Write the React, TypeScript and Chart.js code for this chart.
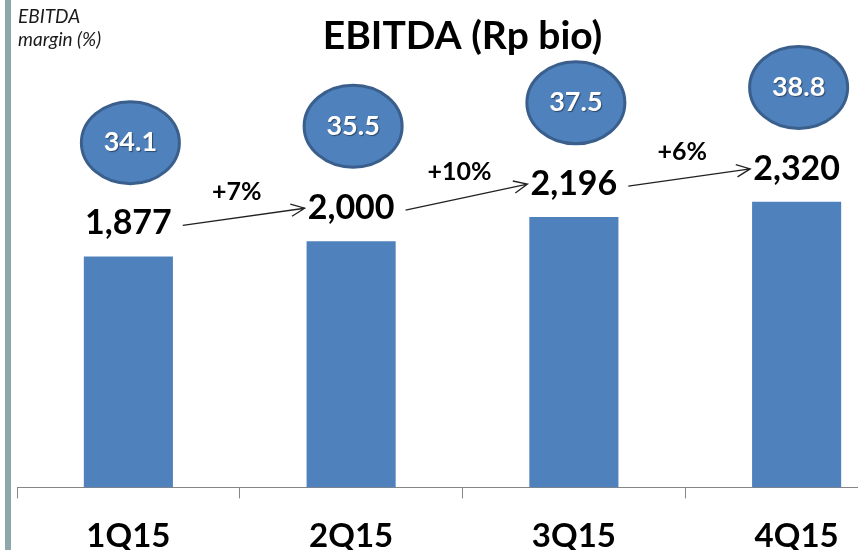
import React, { useEffect, useRef } from "react";
import { Chart, registerables } from "chart.js";

Chart.register(...registerables);

// ---- data ----
const categories = ["1Q15", "2Q15", "3Q15", "4Q15"];
const ebitda = [1877, 2000, 2196, 2320];
const marginPct = [34.1, 35.5, 37.5, 38.8];
const growthLabels = ["+7%", "+10%", "+6%"];
const chartTitle = "EBITDA (Rp bio)";
const marginTitle = ["EBITDA", "margin (%)"];

const FONT = "Lato, 'Open Sans', sans-serif";
const BAR_COLOR = "#4F81BD";
const ELLIPSE_BORDER = "#3A5F8C";
const AXIS_COLOR = "#868686";

const fmt = (v: number) => v.toLocaleString("en-US");

const overlayPlugin = {
  id: "overlay",
  afterDatasetsDraw(chart: any) {
    const ctx: CanvasRenderingContext2D = chart.ctx;
    const area = chart.chartArea;
    const bars = chart.getDatasetMeta(0).data;
    const pts = chart.getDatasetMeta(1).data;
    ctx.save();

    // left frame stripe
    ctx.fillStyle = "#8EA7AA";
    ctx.fillRect(5, 0, 6, chart.height);

    // margin caption
    ctx.fillStyle = "#1a1a1a";
    ctx.font = `italic 19px ${FONT}`;
    ctx.textAlign = "left";
    ctx.textBaseline = "alphabetic";
    ctx.fillText(marginTitle[0], 18, 23);
    ctx.fillText(marginTitle[1], 18, 46);

    // title
    ctx.fillStyle = "#000";
    ctx.font = `bold 39px ${FONT}`;
    ctx.textAlign = "center";
    ctx.fillText(chartTitle, (area.left + area.right) / 2, 49);

    // value labels
    ctx.font = `bold 34px ${FONT}`;
    const centers: { x: number; y: number; w: number }[] = [];
    bars.forEach((el: any, i: number) => {
      const txt = fmt(ebitda[i]);
      const base = el.y - 22;
      ctx.fillText(txt, el.x, base);
      centers.push({ x: el.x, y: base - 12, w: ctx.measureText(txt).width });
    });

    // arrows + growth labels
    ctx.strokeStyle = "#222";
    ctx.lineWidth = 1.3;
    for (let i = 0; i < centers.length - 1; i++) {
      const a = centers[i];
      const b = centers[i + 1];
      const x1 = a.x + a.w / 2 + 11;
      const y1 = a.y + 3;
      const x2 = b.x - b.w / 2 - 3;
      const y2 = b.y + 1;
      ctx.beginPath();
      ctx.moveTo(x1, y1);
      ctx.lineTo(x2, y2);
      const ang = Math.atan2(y2 - y1, x2 - x1);
      const len = 15;
      const spread = 0.42;
      ctx.moveTo(x2 - len * Math.cos(ang - spread), y2 - len * Math.sin(ang - spread));
      ctx.lineTo(x2, y2);
      ctx.lineTo(x2 - len * Math.cos(ang + spread), y2 - len * Math.sin(ang + spread));
      ctx.stroke();
      ctx.fillStyle = "#000";
      ctx.font = `bold 25px ${FONT}`;
      ctx.textAlign = "center";
      ctx.textBaseline = "alphabetic";
      ctx.fillText(growthLabels[i], (x1 + x2) / 2 - 7, (y1 + y2) / 2 - 17);
    }

    // margin ellipses
    pts.forEach((p: any, i: number) => {
      ctx.beginPath();
      ctx.ellipse(p.x + 2, p.y, 49, 41, 0, 0, Math.PI * 2);
      ctx.fillStyle = BAR_COLOR;
      ctx.fill();
      ctx.lineWidth = 3;
      ctx.strokeStyle = ELLIPSE_BORDER;
      ctx.stroke();
      ctx.save();
      ctx.shadowColor = "rgba(0,0,0,0.45)";
      ctx.shadowOffsetX = 1;
      ctx.shadowOffsetY = 1;
      ctx.shadowBlur = 1;
      ctx.fillStyle = "#fff";
      ctx.font = `bold 27px ${FONT}`;
      ctx.textAlign = "center";
      ctx.textBaseline = "middle";
      ctx.fillText(marginPct[i].toFixed(1), p.x + 2, p.y);
      ctx.restore();
    });

    ctx.restore();
  },
};

export default function App() {
  const ref = useRef<HTMLCanvasElement | null>(null);
  useEffect(() => {
    if (!ref.current) return;
    const chart = new Chart(ref.current, {
      type: "bar",
      data: {
        labels: categories,
        datasets: [
          {
            type: "bar",
            data: ebitda,
            backgroundColor: BAR_COLOR,
            categoryPercentage: 1,
            barPercentage: 0.4,
            yAxisID: "y",
          },
          {
            type: "line",
            data: marginPct,
            showLine: false,
            pointRadius: 0,
            yAxisID: "y1",
          } as any,
        ],
      },
      options: {
        animation: false,
        responsive: false,
        devicePixelRatio: 1,
        layout: { padding: { left: 17, right: 2, top: 0, bottom: 0 } },
        plugins: { legend: { display: false }, tooltip: { enabled: false } },
        scales: {
          x: {
            type: "category",
            offset: true,
            grid: {
              display: true,
              offset: true,
              drawOnChartArea: false,
              drawTicks: true,
              tickLength: 11,
              color: AXIS_COLOR,
              lineWidth: 1,
            },
            border: { display: true, color: AXIS_COLOR, width: 1 },
            ticks: {
              color: "#000",
              padding: 18,
              font: { family: FONT, size: 33, weight: "bold" },
            },
          },
          y: { display: false, min: 0, max: 3960 },
          y1: { display: false, min: 4.74, max: 46.25 },
        },
      },
      plugins: [overlayPlugin],
    });
    return () => chart.destroy();
  }, []);

  return (
    <div
      style={{
        position: "fixed",
        left: 0,
        top: 0,
        width: 858,
        height: 550,
        overflow: "hidden",
        background: "#fff",
      }}
    >
      <canvas ref={ref} width={910} height={574} style={{ display: "block" }} />
    </div>
  );
}
